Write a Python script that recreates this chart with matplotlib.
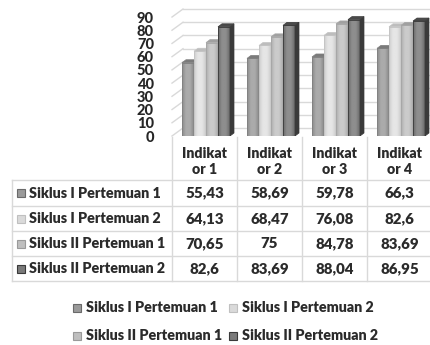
import numpy as np
import matplotlib
matplotlib.use("Agg")
import matplotlib.pyplot as plt
from matplotlib.patches import Polygon, Rectangle
from matplotlib.colors import LinearSegmentedColormap

# ---- data ----
categories = ["Indikat\nor 1", "Indikat\nor 2", "Indikat\nor 3", "Indikat\nor 4"]
series_names = ["Siklus I Pertemuan 1", "Siklus I Pertemuan 2",
                "Siklus II Pertemuan 1", "Siklus II Pertemuan 2"]
siklus1_p1 = [55.43, 58.69, 59.78, 66.3]
siklus1_p2 = [64.13, 68.47, 76.08, 82.6]
siklus2_p1 = [70.65, 75, 84.78, 83.69]
siklus2_p2 = [82.6, 83.69, 88.04, 86.95]
value_labels = [["55,43", "58,69", "59,78", "66,3"],
                ["64,13", "68,47", "76,08", "82,6"],
                ["70,65", "75", "84,78", "83,69"],
                ["82,6", "83,69", "88,04", "86,95"]]
yticks = [0, 10, 20, 30, 40, 50, 60, 70, 80, 90]
series = [siklus1_p1, siklus1_p2, siklus2_p1, siklus2_p2]

# ---- styling ----
plt.rcParams['font.family'] = ['Lato', 'DejaVu Sans']
TXT = "#2b2b2b"
GRID = "#d9d9d9"
WEIGHT = "heavy"
FS_NAME, FS_HEAD, FS_VAL = 10.3, 10.2, 10.8
# (edge shade, centre shade, top face, side face, outline)
styles = [
    ("#8a8a8a", "#ababab", "#7a7a7a", "#6a6a6a", "#808080"),
    ("#cdcdcd", "#e6e6e6", "#bdbdbd", "#adadad", "#c4c4c4"),
    ("#adadad", "#cbcbcb", "#a0a0a0", "#909090", "#a6a6a6"),
    ("#6a6a6a", "#8e8e8e", "#4a4a4a", "#3a3a3a", "#3a3a3a"),
]
legend_fill = ["#9a9a9a", "#dadada", "#bfbfbf", "#7a7a7a"]
legend_edge = ["#6a6a6a", "#c0c0c0", "#9a9a9a", "#3a3a3a"]

W, H = 430, 345
fig = plt.figure(figsize=(W / 100, H / 100), dpi=100)

# plot area: y=0 at 136 px from top, 1.322 px per unit, 65 px per category
y0_px, px_per_unit, cat_px, left_px = 136, 1.322, 65, 172
ymax = 100
ax = fig.add_axes([left_px / W, (H - y0_px) / H,
                   4 * cat_px / W, ymax * px_per_unit / H])
ax.set_xlim(0, 4)
ax.set_ylim(0, ymax)
for s in ax.spines.values():
    s.set_visible(False)
ax.set_xticks([])
ax.set_yticks(yticks)
ax.set_yticklabels([str(v) for v in yticks], fontsize=10.5,
                   fontweight="black", color="#262626")
ax.tick_params(axis="y", length=0, pad=13)
ax.patch.set_alpha(0)

# depth of the back wall and of each bar (in data units)
wall_dx, wall_dy = 11 / cat_px, 8 / px_per_unit
bar_dx, bar_dy = 4 / cat_px, 3 / px_per_unit

for v in yticks:
    ax.plot([0, wall_dx], [v, v + wall_dy], color=GRID, lw=1, zorder=0,
            clip_on=False)
    ax.plot([wall_dx, 4.2], [v + wall_dy, v + wall_dy], color=GRID, lw=1,
            zorder=0, clip_on=False)

bar_w = 12 / cat_px
group_off = 10 / cat_px
x_idx = np.arange(len(categories))
for j, vals in enumerate(series):
    edge, centre, topc, sidec, outline = styles[j]
    cmap = LinearSegmentedColormap.from_list("g%d" % j, [edge, centre, centre, edge])
    grad = np.linspace(0, 1, 64).reshape(1, -1)
    xs = x_idx + group_off + (j + 0.5) * bar_w
    bars = ax.bar(xs, vals, width=bar_w, color=centre, edgecolor=outline,
                  linewidth=0.6, zorder=2 + j)
    for b in bars:
        x, w, h = b.get_x(), b.get_width(), b.get_height()
        im = ax.imshow(grad, cmap=cmap, aspect="auto",
                       extent=[x, x + w, 0, h], zorder=2 + j,
                       interpolation="bilinear")
        im.set_clip_path(b)
        # outline on top of gradient
        ax.add_patch(Rectangle((x, 0), w, h, fill=False, edgecolor=outline,
                               linewidth=0.6, zorder=2 + j))
        # side face
        ax.add_patch(Polygon([(x + w, 0), (x + w + bar_dx, bar_dy),
                              (x + w + bar_dx, h + bar_dy), (x + w, h)],
                             closed=True, facecolor=sidec, edgecolor=outline,
                             linewidth=0.5, zorder=2 + j))
        # top face
        ax.add_patch(Polygon([(x, h), (x + bar_dx, h + bar_dy),
                              (x + w + bar_dx, h + bar_dy), (x + w, h)],
                             closed=True, facecolor=topc, edgecolor=outline,
                             linewidth=0.5, zorder=2 + j))

# ---- data table and legend drawn in pixel coordinates ----
ov = fig.add_axes([0, 0, 1, 1])
ov.set_xlim(0, W)
ov.set_ylim(H, 0)
ov.axis("off")
ov.patch.set_alpha(0)

TL = "#d9d9d9"
col_edges = [left_px + k * cat_px for k in range(5)]
row_edges = [180, 206, 231, 256, 281]
tab_left = 12
for xe in col_edges:
    ov.plot([xe, xe], [137, row_edges[-1]], color=TL, lw=1)
for ye in row_edges:
    ov.plot([tab_left, W], [ye, ye], color=TL, lw=1)
ov.plot([tab_left, tab_left], [row_edges[0], row_edges[-1]], color=TL, lw=1)

for k, cat in enumerate(categories):
    cx = (col_edges[k] + col_edges[k + 1]) / 2
    top, bottom = cat.split("\n")
    ov.text(cx, 153, top, ha="center", va="center", fontsize=FS_HEAD,
            fontweight=WEIGHT, color=TXT)
    ov.text(cx, 170, bottom, ha="center", va="center", fontsize=FS_HEAD,
            fontweight=WEIGHT, color=TXT)

for r, name in enumerate(series_names):
    cy = (row_edges[r] + row_edges[r + 1]) / 2
    ov.add_patch(Rectangle((17, cy - 4), 8, 8, facecolor=legend_fill[r],
                           edgecolor=legend_edge[r], lw=0.8))
    ov.text(29, cy, name, ha="left", va="center", fontsize=FS_NAME,
            fontweight=WEIGHT, color=TXT)
    for k in range(4):
        cx = (col_edges[k] + col_edges[k + 1]) / 2
        ov.text(cx, cy, value_labels[r][k], ha="center", va="center",
                fontsize=FS_VAL, fontweight=WEIGHT, color=TXT)

legend_pos = [(73, 308), (229, 308), (73, 336), (229, 336)]
for r, name in enumerate(series_names):
    lx, ly = legend_pos[r]
    ov.add_patch(Rectangle((lx, ly - 4), 8, 8, facecolor=legend_fill[r],
                           edgecolor=legend_edge[r], lw=0.8))
    ov.text(lx + 13, ly, name, ha="left", va="center", fontsize=FS_NAME,
            fontweight=WEIGHT, color=TXT)

fig.savefig("out.png", dpi=100)
